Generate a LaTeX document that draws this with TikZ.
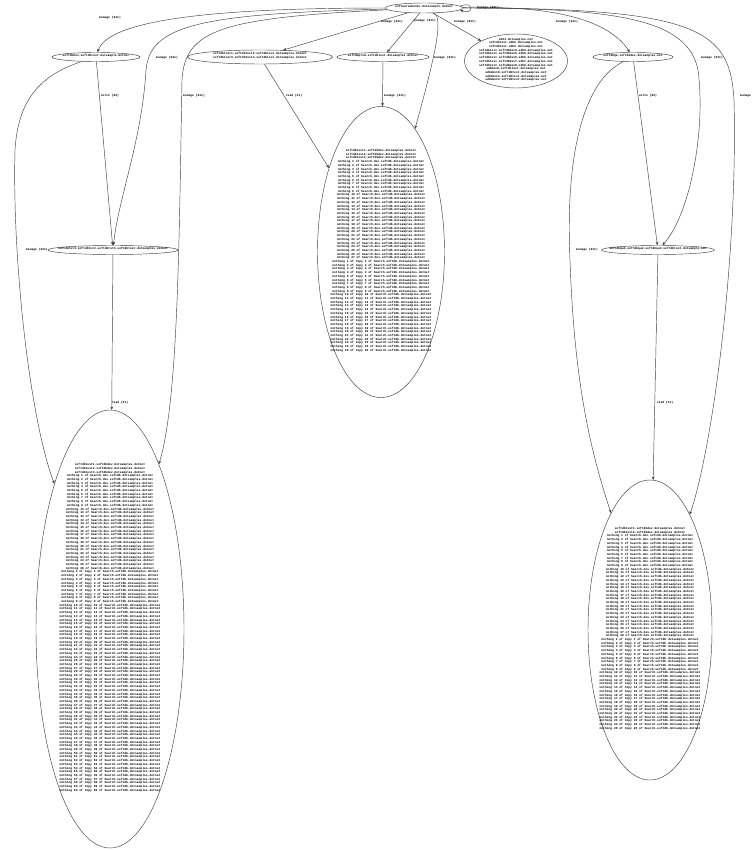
\documentclass[tikz,border=0pt]{standalone}
\usepackage{fontspec}
\newfontfamily\dotfont{Liberation Mono}
\usetikzlibrary{arrows.meta, shapes.geometric}
\definecolor{dotline}{HTML}{404040}
\tikzset{
  dotnode/.style={ellipse, draw=dotline, line width=0.45pt, inner sep=0pt,
    font=\dotfont\bfseries\fontsize{3}{3.7}\selectfont},
  dotedge/.style={-{Stealth[length=3.5pt, width=2.8pt]}, draw=dotline, line width=0.45pt},
  dotlabel/.style={inner sep=0pt, font=\dotfont\bfseries\fontsize{3}{3.7}\selectfont},
}
\newcommand\dotlines[1]{\makebox[0pt]{\smash{\begin{tabular}{@{}c@{}}#1\end{tabular}}}}
\newcommand\bodyhdr[1]{softdbtest#1.softdbdev.dotsamples.dotnet}
\newcommand\bodyshort[1]{nothing #1 of Search.dev.softdb.dotsamples.dotnet}
\newcommand\bodylong[1]{nothing #1 of Copy #1 of Search.softdb.dotsamples.dotnet}
\newcommand\mkbody[4]{%
  \gdef#1{}%
  \foreach \k in {1,...,#2}{\xdef#1{\unexpanded\expandafter{#1}\noexpand\bodyhdr{\k}\noexpand\\}}%
  \foreach \k in {1,...,#3}{\xdef#1{\unexpanded\expandafter{#1}\noexpand\bodyshort{\k}\noexpand\\}}%
  \foreach \k in {1,...,#4}{\xdef#1{\unexpanded\expandafter{#1}\noexpand\bodylong{\k}\noexpand\\}}}
\mkbody\testbody{3}{27}{25}
\mkbody\devbody{3}{26}{60}
\mkbody\qabody{2}{28}{25}

\begin{document}
\begin{tikzpicture}[x=1pt, y=-1pt]
  \path[use as bounding box, fill=white] (0,0) rectangle (752,850);

  \node[dotnode, minimum width=77pt, minimum height=10pt] (root) at (424,8) {\dotlines{softwareubuntu.dotexample.dotnet}};
  \node[dotnode, minimum width=88pt, minimum height=9pt] (dev) at (96,57) {\dotlines{softdbdev.softdbtest.dotsample.dotnet}};
  \node[dotnode, minimum width=145pt, minimum height=14pt] (test) at (260,57) {\dotlines{softdbtest1.softdbtest2.softdbtest.dotsamples.dotnet\\softdbtest3.softdbtest4.softdbtest.dotsamples.dotnet}};
  \node[dotnode, minimum width=92pt, minimum height=9pt] (prod) at (383,57) {\dotlines{softdbprod.softdbtest.dotsamples.dotnet}};
  \node[dotnode, minimum width=103pt, minimum height=54pt] (cloud) at (516,61) {\dotlines{sdb1.dotsamples.net\\softdbtest.sdb2.dotsamples.net\\softdbtest.sdb3.dotsamples.net\\softdbtest.softdbdev4.sdb4.dotsamples.net\\softdbtest.softdbdev5.sdb5.dotsamples.net\\softdbtest.softdbdev6.sdb6.dotsamples.net\\softdbtest.softdbdev7.sdb7.dotsamples.net\\softdbtest.softdbdev8.sdb8.dotsamples.net\\sdbdev9.softdbtest.dotsamples.net\\sdbdev10.softdbtest.dotsamples.net\\sdbdev11.softdbtest.dotsamples.net\\sdbdev12.softdbtest.dotsamples.net}};
  \node[dotnode, minimum width=80pt, minimum height=9pt] (qa) at (633,57) {\dotlines{softdbqa.softdbdev.dotsamples.net}};
  \node[dotnode, minimum width=130pt, minimum height=9pt] (devcopy) at (113,250) {\dotlines{softdbtst1.softdbtst2.softdbtst3.softdbtest.dotsamples.dotnet}};
  \node[dotnode, minimum width=113pt, minimum height=9pt] (qacopy) at (658,250) {\dotlines{softdbqa1.softdbqa2.softdbqa3.softdbtest.dotsample.net}};
  \node[dotnode, minimum width=127pt, minimum height=291pt] (testread) at (381,252) {\dotlines{\testbody}};
  \node[dotnode, minimum width=148pt, minimum height=438pt] (devread) at (110,629) {\dotlines{\devbody}};
  \node[dotnode, minimum width=124pt, minimum height=300pt] (qaread) at (650,630) {\dotlines{\qabody}};

  \foreach \a/\b in {root/test, root/prod, root/cloud, dev/devcopy, devcopy/devread,
                     test/testread, prod/testread, qa/qacopy, qacopy/qaread}
    \draw[dotedge] (\a) -- (\b);

  \draw[dotedge] (root.3) .. controls +(14,-6) and +(14,6) .. (root.-3);
  \draw[dotedge] (root) .. controls (250,8) and (110,15) .. (dev);
  \draw[dotedge] (root) .. controls (200,14) and (150,25) .. (146,70) .. controls (142,140) and (118,200) .. (devcopy);
  \draw[dotedge] (root) .. controls (220,18) and (185,30) .. (182,80) .. controls (179,250) and (178,400) .. (devread);
  \draw[dotedge] (dev) .. controls (40,75) and (18,100) .. (15,150) .. controls (12,260) and (30,420) .. (devread);
  \draw[dotedge] (root) .. controls (444,18) and (434,60) .. (testread);
  \draw[dotedge] (root) .. controls (540,6) and (605,15) .. (qa);
  \draw[dotedge] (root) .. controls (620,8) and (688,20) .. (698,70) .. controls (706,130) and (690,215) .. (qacopy);
  \draw[dotedge] (root) .. controls (700,8) and (730,30) .. (734,100) .. controls (738,260) and (712,450) .. (qaread);
  \draw[dotedge] (qa) .. controls (585,80) and (565,150) .. (570,260) .. controls (574,380) and (590,450) .. (qaread);

  \foreach \nm/\x/\y/\t in {
      lself/488/8/manage (911), ldev/110/18/manage (911), ldevcopy/167/58/manage (911),
      ldevread/194/96/manage (911), lwrite/110/96/write (82), lside/37/250/manage (911),
      lcopyread/120/403/read (31), ltest/392/22/manage (911), lprod/425/21/manage (911),
      lcloud/465/22/manage (911), lroottest/445/58/manage (911), lqa/567/22/manage (911),
      lqacopy/712/58/manage (911), ltestread/294/96/read (31), lprodread/395/96/manage (911),
      lqawrite/648/96/write (82), lqaside/587/250/manage (911), lqaread/665/403/read (31)}
    \node[dotlabel] (\nm) at (\x,\y) {\t};
  \node[dotlabel, anchor=west] (lrootqa) at (740,96) {manage (911)};
\end{tikzpicture}
\end{document}
